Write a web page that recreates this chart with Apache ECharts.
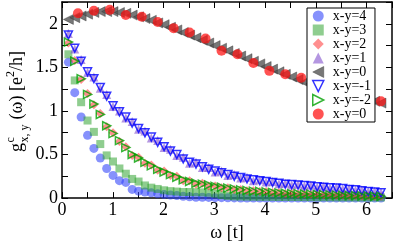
<!DOCTYPE html>
<html><head><meta charset="utf-8">
<script src="https://cdn.jsdelivr.net/npm/echarts@6/dist/echarts.min.js"></script>
<style>html,body{margin:0;padding:0;background:#fff}#c{width:395px;height:247px}</style>
</head><body><div id="c"></div>
<script>
// ---------- data ----------
const omega = [0.126,0.251,0.377,0.503,0.628,0.754,0.880,1.005,1.131,1.257,1.382,1.508,1.634,1.759,1.885,2.011,2.136,2.262,2.388,2.513,2.639,2.765,2.890,3.016,3.142,3.267,3.393,3.519,3.644,3.770,3.896,4.021,4.147,4.273,4.398,4.524,4.650,4.775,4.901,5.027,5.152,5.278,5.404,5.529,5.655,5.781,5.906,6.032,6.158,6.283];
const omegaCoarse = [0.314,0.628,0.942,1.257,1.571,1.885,2.199,2.513,2.827,3.142,3.456,3.770,4.084,4.398,4.712,5.027,5.341,5.655,5.969,6.283];

const gXY4 = [1.56,1.21,0.93,0.72,0.57,0.46,0.34,0.26,0.20,0.18,0.10,0.08,0.07,0.06,0.05,0.04,0.035,0.03,0.02,0.015,0.01,0.01,0.008,0.005,0.005,0.003,0.002,0.001,0,0,0,0,0,0,0,0,0,0,0,0,0,0,0,0,0,0,0,0,0,0];
const gXY3 = [1.65,1.35,1.10,0.89,0.76,0.62,0.49,0.42,0.34,0.28,0.22,0.19,0.145,0.12,0.105,0.09,0.08,0.075,0.07,0.07,0.068,0.066,0.062,0.05,0.035,0.025,0.02,0.018,0.017,0.016,0.015,0.015,0.014,0.013,0.013,0.012,0.012,0.011,0.011,0.010,0.010,0.010,0.009,0.009,0.009,0.008,0.008,0.008,0.008,0.008];
const gXY2 = [1.78,1.58,1.36,1.20,1.07,0.97,0.82,0.75,0.65,0.59,0.49,0.47,0.40,0.38,0.32,0.31,0.26,0.25,0.20,0.20,0.16,0.17,0.14,0.14,0.12,0.12,0.10,0.10,0.085,0.085,0.075,0.075,0.063,0.063,0.054,0.055,0.048,0.05,0.043,0.045,0.038,0.04,0.033,0.035,0.029,0.03,0.025,0.026,0.021,0.022];
const gXY1 = [1.89,1.71,1.59,1.44,1.39,1.26,1.19,1.05,1.00,0.92,0.88,0.79,0.77,0.69,0.66,0.58,0.56,0.49,0.47,0.40,0.41,0.35,0.35,0.30,0.31,0.26,0.27,0.23,0.24,0.20,0.21,0.185,0.19,0.165,0.17,0.15,0.16,0.14,0.15,0.125,0.135,0.115,0.125,0.105,0.11,0.09,0.095,0.075,0.08,0.065];
const gXY0 = [2.05,2.07,2.09,2.11,2.13,2.14,2.14,2.14,2.13,2.12,2.10,2.08,2.06,2.04,2.01,1.99,1.96,1.93,1.90,1.87,1.84,1.81,1.78,1.75,1.72,1.69,1.66,1.63,1.60,1.57,1.54,1.51,1.48,1.45,1.42,1.39,1.36,1.33,1.31,1.29,1.27,1.25,1.23,1.21,1.19,1.17,1.15,1.13,1.11,1.09];
const gXYm1 = [1.87,1.72,1.57,1.45,1.37,1.27,1.17,1.06,0.99,0.93,0.86,0.80,0.75,0.70,0.64,0.59,0.54,0.50,0.45,0.41,0.39,0.36,0.33,0.31,0.29,0.27,0.25,0.235,0.22,0.21,0.20,0.19,0.18,0.17,0.16,0.155,0.15,0.145,0.14,0.13,0.125,0.12,0.115,0.11,0.10,0.095,0.085,0.075,0.07,0.06];
const gXYm2 = [1.79,1.57,1.37,1.19,1.08,0.96,0.83,0.74,0.66,0.58,0.50,0.46,0.41,0.37,0.33,0.30,0.27,0.24,0.21,0.19,0.17,0.16,0.15,0.135,0.125,0.115,0.105,0.095,0.088,0.08,0.078,0.072,0.066,0.06,0.056,0.052,0.05,0.047,0.045,0.042,0.04,0.037,0.035,0.032,0.03,0.028,0.026,0.024,0.022,0.02];
const gXY0red = [2.12,2.15,2.16,2.10,2.08,2.02,1.95,1.90,1.83,1.69,1.65,1.55,1.46,1.42,1.38,1.31,1.25,1.19,1.15,1.11];

const seriesNames = ['x-y=4','x-y=3','x-y=2','x-y=1','x-y=0','x-y=-1','x-y=-2','x-y=0\u200b'];
const xTickLabels = {0:'0',1:'1',2:'2',3:'3',4:'4',5:'5',6:'6'};
const yTickLabels = {0:'0',0.5:'0.5',1:'1',1.5:'1.5',2:'2'};

// ---------- chart ----------
const SERIF = '"Liberation Serif","DejaVu Serif",serif';
const pair = (xs, ys) => ys.map((v, i) => [xs[i], v]);

const TRI_UP = 'path://M5,0L10,10L0,10Z';
const TRI_LEFT = 'path://M0,5L10,0L10,10Z';
const TRI_DOWN = 'path://M0,0L10,0L5,10Z';
const TRI_RIGHT = 'path://M0,0L10,5L0,10Z';

const styles = [
  { symbol: 'circle', size: 9, style: { color: 'rgba(45,65,250,0.72)' } },
  { symbol: 'rect', size: 8, style: { color: 'rgba(40,160,40,0.65)' } },
  { symbol: 'diamond', size: 9, style: { color: 'rgba(255,40,40,0.65)' } },
  { symbol: TRI_UP, size: 9, style: { color: 'rgba(130,80,205,0.75)' } },
  { symbol: TRI_LEFT, size: 10, style: { color: '#555555', borderColor: '#333', borderWidth: 0.5 } },
  { symbol: TRI_DOWN, size: 8, style: { color: 'rgba(0,0,0,0)', borderColor: '#0000ff', borderWidth: 1.5 } },
  { symbol: TRI_RIGHT, size: 8, style: { color: 'rgba(0,0,0,0)', borderColor: '#00a000', borderWidth: 1.5 } },
  { symbol: 'circle', size: 10, style: { color: 'rgba(255,20,20,0.92)' } }
];
const seriesData = [gXY4, gXY3, gXY2, gXY1, gXY0, gXYm1, gXYm2, gXY0red];
const seriesX = [omega, omega, omega, omega, omega, omega, omega, omegaCoarse];

const series = seriesNames.map((name, i) => ({
  type: 'scatter', name, data: pair(seriesX[i], seriesData[i]),
  symbol: styles[i].symbol, symbolSize: styles[i].size,
  itemStyle: styles[i].style, emphasis: { disabled: true }, clip: true
}));

const axisCommon = {
  type: 'value',
  axisLine: { show: true, onZero: false, lineStyle: { color: '#000', width: 1.5 } },
  axisTick: { show: true, inside: true, length: 6, lineStyle: { color: '#000', width: 1 } },
  splitLine: { show: false }
};

const option = {
  animation: false,
  grid: { left: 62, right: 2, top: 2, bottom: 40 },
  xAxis: [
    Object.assign({}, axisCommon, { position: 'bottom', min: 0, max: 6.5, interval: 0.5,
      axisLabel: { interval: 0, margin: 3, color: '#000', fontFamily: SERIF, fontSize: 18,
        formatter: v => (xTickLabels[v] !== undefined ? xTickLabels[v] : '') },
      name: 'ω [t]', nameLocation: 'middle', nameGap: 23,
      nameTextStyle: { color: '#000', fontFamily: SERIF, fontSize: 18 } }),
    Object.assign({}, axisCommon, { position: 'top', min: 0, max: 6.5, interval: 0.5, axisLabel: { show: false } })
  ],
  yAxis: [
    Object.assign({}, axisCommon, { position: 'left', min: 0, max: 2.25, interval: 0.25,
      axisLabel: { interval: 0, margin: 4, color: '#000', fontFamily: SERIF, fontSize: 18,
        formatter: v => (yTickLabels[v] !== undefined ? yTickLabels[v] : '') } }),
    Object.assign({}, axisCommon, { position: 'right', min: 0, max: 2.25, interval: 0.25, axisLabel: { show: false } })
  ],
  legend: {
    data: seriesNames.map((name, i) => ({ name, icon: styles[i].symbol, itemStyle: styles[i].style })),
    orient: 'vertical', left: 307, top: 8,
    padding: [1, 4, 1, 5], itemGap: 0, itemWidth: 11, itemHeight: 11,
    backgroundColor: '#fff', borderColor: '#000', borderWidth: 1, borderRadius: 0,
    selectedMode: false,
    formatter: n => n.replace('\u200b', ''),
    textStyle: { color: '#000', fontFamily: SERIF, fontSize: 14, lineHeight: 13, padding: [0, 0, 0, 4] }
  },
  series
};

// y-axis title built from measured text pieces (rotated)
const cv = document.createElement('canvas').getContext('2d');
function tw(t, s) { cv.font = s + 'px "Liberation Serif"'; return cv.measureText(t).width; }
const M = 18, S = 12;
const x1 = tw('g', M) + 0.5;
const x2 = x1 + Math.max(tw('c', S), tw('x, y', S)) + 0.5;
const x3 = x2 + tw(' (ω) [e', M);
const x4 = x3 + tw('2', S);
const total = x4 + tw('/h]', M);
const fnt = s => s + 'px ' + SERIF;
const txt = (t, x, y, s) => ({ type: 'text', x, y, style: { text: t, font: fnt(s), fill: '#000', align: 'left', verticalAlign: 'middle' } });
option.graphic = [{
  type: 'group', x: 23, y: 101.5 + total / 2, rotation: Math.PI / 2,
  children: [
    txt('g', 0, -5.4, M),
    txt('c', x1, -12, S),
    txt('x, y', x1, 1.6, S),
    txt(' (ω) [e', x2, -5.4, M),
    txt('2', x3, -12, S),
    txt('/h]', x4, -5.4, M)
  ]
}];

const chart = echarts.init(document.getElementById('c'), null, { renderer: 'canvas' });
chart.setOption(option);
</script></body></html>
